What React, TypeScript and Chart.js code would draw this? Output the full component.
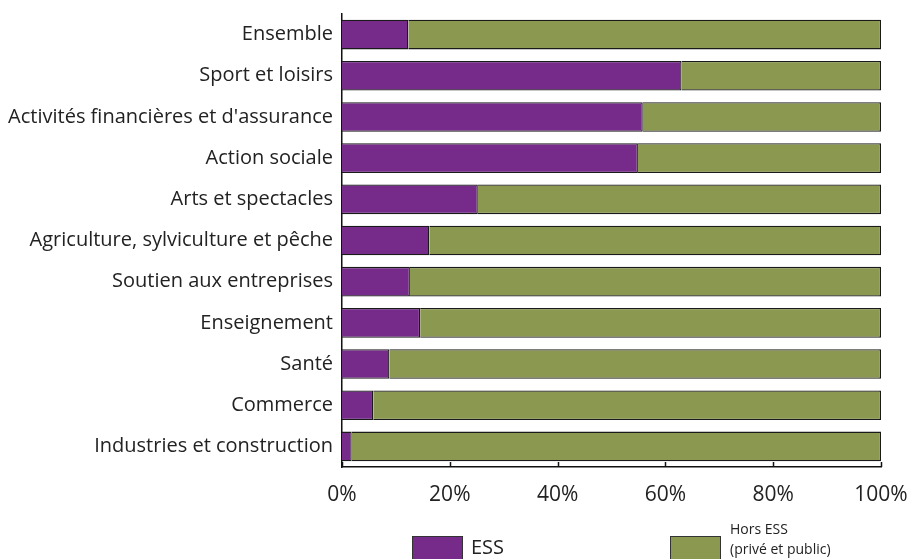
import React, { useEffect, useRef } from "react";
import { Chart, registerables } from "chart.js";

Chart.register(...registerables);

const categories = [
  "Ensemble",
  "Sport et loisirs",
  "Activités financières et d'assurance",
  "Action sociale",
  "Arts et spectacles",
  "Agriculture, sylviculture et pêche",
  "Soutien aux entreprises",
  "Enseignement",
  "Santé",
  "Commerce",
  "Industries et construction",
];
const essValues = [12.3, 63.0, 55.8, 54.9, 25.2, 16.2, 12.6, 14.5, 8.8, 5.8, 1.8];
const horsEssValues = essValues.map((v) => Math.round((100 - v) * 10) / 10);
const xTicks = [0, 20, 40, 60, 80, 100];
const seriesNames = ["ESS", "Hors ESS (privé et public)"];

const PURPLE = "#762B8A";
const GREEN = "#8B9850";
const FONT = "'Open Sans', sans-serif";

const extrasPlugin = {
  id: "extras",
  afterDraw(chart: any) {
    const ctx = chart.ctx;
    const x = chart.scales.x;
    const area = chart.chartArea;
    ctx.save();
    // inward tick marks
    ctx.strokeStyle = "#111";
    ctx.lineWidth = 1.5;
    for (const t of xTicks) {
      const px = Math.round(x.getPixelForValue(t)) + 0.5;
      ctx.beginPath();
      ctx.moveTo(px, area.bottom);
      ctx.lineTo(px, area.bottom - 5);
      ctx.stroke();
    }
    // legend
    ctx.lineWidth = 1;
    ctx.strokeStyle = "#333";
    ctx.fillStyle = PURPLE;
    ctx.fillRect(412, 536, 50, 40);
    ctx.strokeRect(412.5, 536.5, 50, 40);
    ctx.fillStyle = GREEN;
    ctx.fillRect(670, 536, 50, 40);
    ctx.strokeRect(670.5, 536.5, 50, 40);
    ctx.fillStyle = "#222";
    ctx.textBaseline = "alphabetic";
    ctx.textAlign = "left";
    ctx.font = `20px ${FONT}`;
    ctx.fillText(seriesNames[0], 471, 554);
    ctx.font = `14px ${FONT}`;
    ctx.fillText("Hors ESS", 730, 534);
    ctx.fillText("(privé et public)", 730, 554);
    ctx.restore();
  },
};

export default function App() {
  const ref = useRef<HTMLCanvasElement | null>(null);
  useEffect(() => {
    document.body.style.margin = "0";
    const chart = new Chart(ref.current as HTMLCanvasElement, {
      type: "bar",
      data: {
        labels: categories,
        datasets: [
          {
            label: seriesNames[0],
            data: essValues,
            backgroundColor: PURPLE,
            borderColor: "#1a1a1a",
            borderWidth: 1.3,
            barPercentage: 0.72,
            categoryPercentage: 1,
          },
          {
            label: seriesNames[1],
            data: horsEssValues,
            backgroundColor: GREEN,
            borderColor: "#1a1a1a",
            borderWidth: 1.3,
            barPercentage: 0.72,
            categoryPercentage: 1,
          },
        ],
      },
      options: {
        indexAxis: "y",
        animation: false,
        responsive: false,
        maintainAspectRatio: false,
        layout: { padding: { top: 14, right: 31, left: 0, bottom: 0 } },
        plugins: {
          legend: { display: false },
          tooltip: { enabled: false },
        },
        scales: {
          x: {
            stacked: true,
            min: 0,
            max: 100,
            afterBuildTicks: (s: any) => {
              s.ticks = xTicks.map((v) => ({ value: v }));
            },
            afterFit: (s: any) => {
              s.height = 92;
              s.paddingRight = 0;
              s.paddingLeft = 0;
            },
            grid: { display: false, drawTicks: false },
            border: { display: true, color: "#111", width: 1.5 },
            ticks: {
              padding: 15,
              color: "#222",
              font: { family: FONT, size: 21 },
              maxRotation: 0,
              callback: (v: any) => `${v}%`,
            },
          },
          y: {
            stacked: true,
            afterFit: (s: any) => {
              s.width = 342;
              s.paddingTop = 0;
              s.paddingBottom = 0;
            },
            grid: { display: false, drawTicks: false },
            border: { display: true, color: "#111", width: 1.5 },
            ticks: {
              padding: 9,
              color: "#222",
              font: { family: FONT, size: 20 },
            },
          },
        },
      },
      plugins: [extrasPlugin],
    });
    return () => chart.destroy();
  }, []);
  return (
    <div style={{ position: "relative", width: 912, height: 559 }}>
      <canvas ref={ref} width={912} height={559} style={{ display: "block" }} />
    </div>
  );
}
